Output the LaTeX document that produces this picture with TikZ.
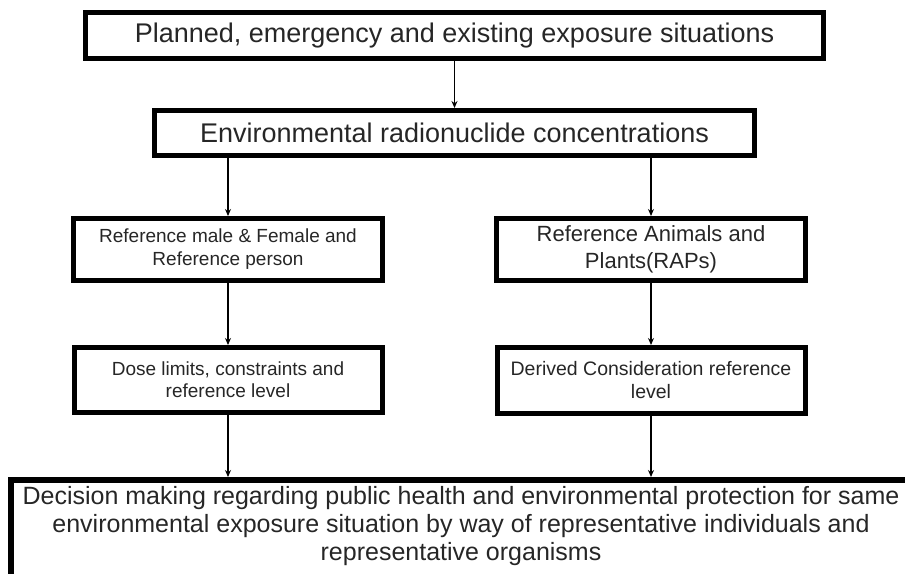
\documentclass[tikz,border=0pt]{standalone}
\usepackage{fontspec}
\setmainfont{Liberation Sans}
\usetikzlibrary{arrows.meta}
\begin{document}
\begin{tikzpicture}[x=1pt,y=-1pt,
  box/.style={draw=black, line width=5pt, align=center, inner sep=0pt, text=black!85},
  conn/.style={draw=black, line width=1.3pt, -{Stealth[length=7pt,width=6pt]}}]
\useasboundingbox (0,0) rectangle (905,573);
\clip (0,0) rectangle (905,573);
\node[box, minimum width=738pt, minimum height=46pt,
  font=\fontsize{27}{32}\selectfont] (top) at (454.5,35.5)
  {Planned, emergency and existing exposure situations};
\node[box, minimum width=600pt, minimum height=45pt,
  font=\fontsize{27}{32}\selectfont] (env) at (454.5,133)
  {Environmental radionuclide concentrations};
\node[box, minimum width=309pt, minimum height=62pt,
  font=\fontsize{19}{23}\selectfont] (refp) at (228,249.5)
  {Reference male \& Female and\\Reference person};
\node[box, minimum width=309pt, minimum height=62pt,
  font=\fontsize{22}{27}\selectfont] (raps) at (651,249.5)
  {Reference Animals and\\Plants(RAPs)};
\node[box, minimum width=308pt, minimum height=65pt,
  font=\fontsize{19}{22}\selectfont] (dose) at (228,380)
  {Dose limits, constraints and\\reference level};
\node[box, minimum width=308pt, minimum height=66pt,
  font=\fontsize{19.5}{23}\selectfont] (dcrl) at (651,380.5)
  {Derived Consideration reference\\level};
\node[box, draw=none, outer sep=0pt, minimum width=906pt, minimum height=98pt,
  font=\fontsize{25}{28}\selectfont] (dec) at (461,526)
  {Decision making regarding public health and environmental protection for same\\environmental exposure situation by way of representative individuals and\\representative organisms};
\draw[line width=6pt, line join=miter]
  ([xshift=3pt,yshift=-30pt]dec.south west) -- ([xshift=3pt,yshift=-3pt]dec.north west)
  -- ([xshift=30pt,yshift=-3pt]dec.north east);
\draw[conn] (top.south) -- (env.north);
\draw[conn] (refp.north |- env.south) -- (refp.north);
\draw[conn] (raps.north |- env.south) -- (raps.north);
\draw[conn] (refp.south) -- (dose.north);
\draw[conn] (raps.south) -- (dcrl.north);
\draw[conn] (dose.south) -- (dose.south |- dec.north);
\draw[conn] (dcrl.south) -- (dcrl.south |- dec.north);
\end{tikzpicture}
\end{document}
